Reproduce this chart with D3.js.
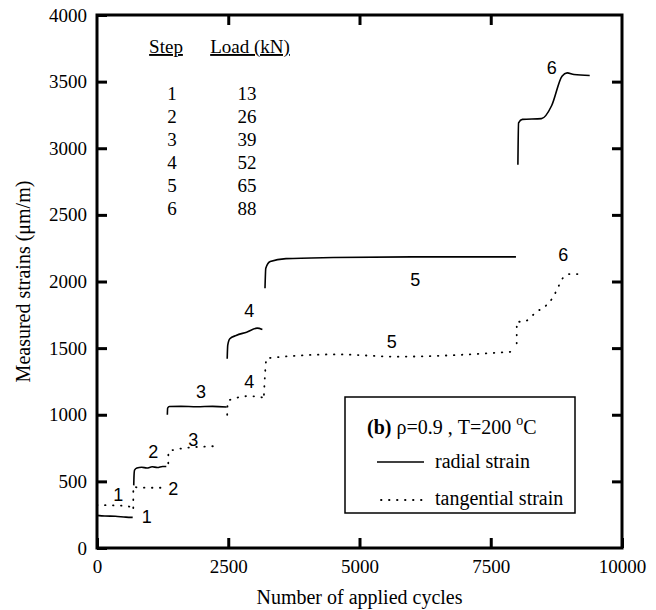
<!DOCTYPE html>
<html><head><meta charset="utf-8">
<script src="https://cdn.jsdelivr.net/npm/d3@7"></script>
<style>body{margin:0;background:#fff}</style>
</head><body>
<svg id="c" width="656" height="610"></svg>
<script>
// ---- data (cycles, strain in µm/m) ----
const radialStep1=[[0,245],[150,240],[350,238],[550,232],[680,230]];
const radialStep2=[[700,470],[705,540],[715,585],[760,600],[850,606],[950,600],[1050,610],[1150,604],[1250,612],[1320,612]];
const radialStep3=[[1340,1000],[1345,1050],[1380,1062],[1600,1063],[1900,1060],[2200,1063],[2470,1058]];
const radialStep4=[[2480,1420],[2490,1520],[2530,1570],[2650,1595],[2850,1620],[3050,1650],[3150,1640]];
const radialStep5=[[3200,1950],[3215,2100],[3300,2150],[3600,2172],[4500,2180],[6000,2185],[7980,2185]];
const radialStep6=[[8017,2876],[8030,3191],[8103,3217],[8465,3222],[8661,3321],[8857,3541],[8956,3566],[9086,3553],[9385,3546]];
const tangStep1=[[0,322],[300,320],[550,315],[660,305],[690,300]];
const tangStep2=[[691,300],[692,460],[760,455],[1000,452],[1232,452]];
const tangStep3=[[1358,636],[1360,723],[1530,741],[1800,755],[2100,762],[2343,765]];
const tangStep4=[[2480,1000],[2490,1100],[2600,1120],[2900,1140],[3150,1130]];
const tangStep5=[[3180,1150],[3200,1300],[3230,1423],[4565,1453],[5708,1436],[7930,1473]];
const tangStep6=[[7994,1536],[7996,1698],[8120,1698],[8375,1773],[8565,1824],[8692,1886],[8787,1961],[8870,2024],[9010,2056],[9168,2056]];
const radialLabels=[[947,235,"1"],[1072,723,"2"],[1979,1173,"3"],[2900,1780,"4"],[6062,2010,"5"],[8661,3605,"6"]];
const tangLabels=[[406,398,"1"],[1453,448,"2"],[1834,810,"3"],[2900,1250,"4"],[5613,1548,"5"],[8882,2199,"6"]];
const steps=["1","2","3","4","5","6"];
const loads=["13","26","39","52","65","88"];
const xTicks=[0,2500,5000,7500,10000];
const yTicks=[0,500,1000,1500,2000,2500,3000,3500,4000];

// ---- drawing ----
const svg=d3.select("#c");
const L=97,R=622,T=15,B=548;
const x=d3.scaleLinear().domain([0,10000]).range([L,R]);
const y=d3.scaleLinear().domain([0,4000]).range([B,T]);
const serif="'Liberation Serif','Times New Roman',serif";
const sans="'Liberation Sans',Arial,sans-serif";

function styleAxis(g){
  g.select(".domain").remove();
  g.selectAll(".tick line").attr("stroke","#000").attr("stroke-width",3);
  g.selectAll(".tick text").attr("font-family",serif).attr("font-size",19).attr("fill","#000");
}
svg.append("g").attr("transform",`translate(0,${B})`)
  .call(d3.axisBottom(x).tickValues(xTicks).tickFormat(d3.format("d")).tickSizeInner(-10).tickSizeOuter(0).tickPadding(12))
  .call(styleAxis);
svg.append("g").attr("transform",`translate(${L},0)`)
  .call(d3.axisLeft(y).tickValues(yTicks).tickFormat(d3.format("d")).tickSizeInner(-10).tickSizeOuter(0).tickPadding(10))
  .call(styleAxis);
svg.append("g").attr("transform",`translate(0,${T})`)
  .call(d3.axisTop(x).tickValues(xTicks.slice(1,-1)).tickFormat("").tickSizeInner(-10).tickSizeOuter(0))
  .call(styleAxis);
svg.append("g").attr("transform",`translate(${R},0)`)
  .call(d3.axisRight(y).tickValues(yTicks.slice(1,-1)).tickFormat("").tickSizeInner(-10).tickSizeOuter(0))
  .call(styleAxis);
svg.append("rect").attr("x",L).attr("y",T).attr("width",R-L).attr("height",B-T)
  .attr("fill","none").attr("stroke","#000").attr("stroke-width",3);

const line=d3.line().x(d=>x(d[0])).y(d=>y(d[1])).curve(d3.curveMonotoneX);
[radialStep1,radialStep2,radialStep3,radialStep4,radialStep5,radialStep6].forEach(s=>{
  svg.append("path").datum(s).attr("d",line).attr("fill","none").attr("stroke","#000").attr("stroke-width",1.6);
});
[tangStep1,tangStep2,tangStep3,tangStep4,tangStep5,tangStep6].forEach(s=>{
  svg.append("path").datum(s).attr("d",line).attr("fill","none").attr("stroke","#000")
    .attr("stroke-width",1.8).attr("stroke-linecap","round").attr("stroke-dasharray","0.5 7.5");
});
radialLabels.concat(tangLabels).forEach(d=>{
  svg.append("text").attr("x",x(d[0])).attr("y",y(d[1])).attr("text-anchor","middle").attr("dy","0.35em")
    .attr("font-family",sans).attr("font-size",18).text(d[2]);
});

// step/load table
const tbl=svg.append("g").attr("font-family",serif).attr("font-size",19).attr("text-anchor","middle");
tbl.append("text").attr("x",166).attr("y",53).attr("text-decoration","underline").text("Step");
tbl.append("text").attr("x",250).attr("y",53).attr("text-decoration","underline").text("Load (kN)");
steps.forEach((s,i)=>{
  tbl.append("text").attr("x",172).attr("y",100+23*i).text(s);
  tbl.append("text").attr("x",247).attr("y",100+23*i).text(loads[i]);
});

// legend
const lg=svg.append("g");
lg.append("rect").attr("x",345).attr("y",397).attr("width",230).attr("height",116).attr("fill","#fff").attr("stroke","#000").attr("stroke-width",1.5);
const h=lg.append("text").attr("x",367).attr("y",434).attr("font-family",serif).attr("font-size",20);
h.append("tspan").attr("font-weight","bold").text("(b) ");
h.append("tspan").text("ρ=0.9 , T=200 ");
h.append("tspan").attr("dy",-9).attr("font-size",14).text("o");
h.append("tspan").attr("dy",9).text("C");
lg.append("line").attr("x1",377).attr("x2",424).attr("y1",462).attr("y2",462).attr("stroke","#000").attr("stroke-width",1.6);
lg.append("text").attr("x",435).attr("y",468).attr("font-family",serif).attr("font-size",20).text("radial strain");
lg.append("line").attr("x1",381).attr("x2",424).attr("y1",500).attr("y2",500).attr("stroke","#000").attr("stroke-width",1.8)
  .attr("stroke-linecap","round").attr("stroke-dasharray","0.5 7.5");
lg.append("text").attr("x",435).attr("y",505).attr("font-family",serif).attr("font-size",20).text("tangential strain");

// axis titles
svg.append("text").attr("x",(L+R)/2).attr("y",604).attr("text-anchor","middle").attr("font-family",serif).attr("font-size",20).text("Number of applied cycles");
svg.append("text").attr("transform",`translate(30,${(T+B)/2}) rotate(-90)`).attr("text-anchor","middle").attr("font-family",serif).attr("font-size",20).text("Measured strains (μm/m)");
</script>
</body></html>
